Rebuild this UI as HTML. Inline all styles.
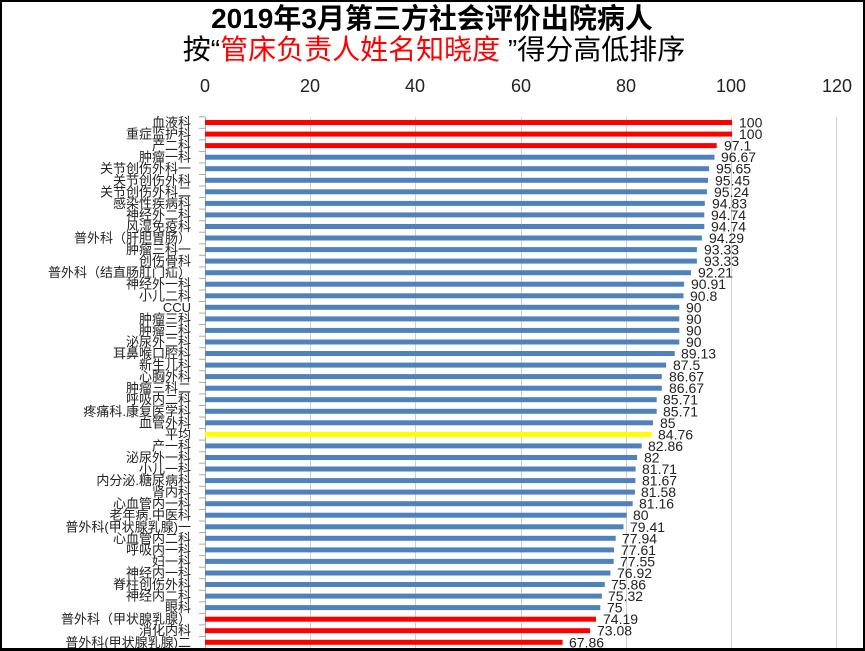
<!DOCTYPE html>
<html><head><meta charset="utf-8"><style>
html,body{margin:0;padding:0;background:#fff;}
svg{display:block;}
text{font-family:"Liberation Sans","Noto Sans CJK SC",sans-serif;}
</style></head><body>
<svg width="865" height="651" xmlns="http://www.w3.org/2000/svg">
<rect x="0" y="0" width="865" height="651" fill="#fff"/>
<text x="432" y="28" font-size="28" font-weight="bold" text-anchor="middle" fill="#000">2019年3月第三方社会评价出院病人</text>
<text x="434" y="59" font-size="28" text-anchor="middle" fill="#000">按“<tspan fill="#ff0000">管床负责人姓名知晓度</tspan> ”得分高低排序</text>
<g font-size="18" fill="#222" text-anchor="middle">
<text x="205" y="92">0</text><text x="310" y="92">20</text><text x="415" y="92">40</text><text x="521" y="92">60</text><text x="626" y="92">80</text><text x="731" y="92">100</text><text x="837" y="92">120</text>
</g>
<g stroke="#d0d0d0" stroke-width="1">
<line x1="310.5" y1="117" x2="310.5" y2="651"/><line x1="415.5" y1="117" x2="415.5" y2="651"/><line x1="521.5" y1="117" x2="521.5" y2="651"/><line x1="626.5" y1="117" x2="626.5" y2="651"/><line x1="731.5" y1="117" x2="731.5" y2="651"/><line x1="836.5" y1="117" x2="836.5" y2="651"/>
</g>
<line x1="205.5" y1="117" x2="205.5" y2="651" stroke="#aaa"/>
<g stroke="#aaa">
<line x1="199" y1="116.7" x2="205" y2="116.7"/><line x1="199" y1="128.3" x2="205" y2="128.3"/><line x1="199" y1="139.8" x2="205" y2="139.8"/><line x1="199" y1="151.4" x2="205" y2="151.4"/><line x1="199" y1="162.9" x2="205" y2="162.9"/><line x1="199" y1="174.5" x2="205" y2="174.5"/><line x1="199" y1="186" x2="205" y2="186"/><line x1="199" y1="197.6" x2="205" y2="197.6"/><line x1="199" y1="209.1" x2="205" y2="209.1"/><line x1="199" y1="220.7" x2="205" y2="220.7"/><line x1="199" y1="232.2" x2="205" y2="232.2"/><line x1="199" y1="243.8" x2="205" y2="243.8"/><line x1="199" y1="255.3" x2="205" y2="255.3"/><line x1="199" y1="266.9" x2="205" y2="266.9"/><line x1="199" y1="278.4" x2="205" y2="278.4"/><line x1="199" y1="290" x2="205" y2="290"/><line x1="199" y1="301.5" x2="205" y2="301.5"/><line x1="199" y1="313.1" x2="205" y2="313.1"/><line x1="199" y1="324.6" x2="205" y2="324.6"/><line x1="199" y1="336.2" x2="205" y2="336.2"/><line x1="199" y1="347.7" x2="205" y2="347.7"/><line x1="199" y1="359.3" x2="205" y2="359.3"/><line x1="199" y1="370.8" x2="205" y2="370.8"/><line x1="199" y1="382.4" x2="205" y2="382.4"/><line x1="199" y1="393.9" x2="205" y2="393.9"/><line x1="199" y1="405.5" x2="205" y2="405.5"/><line x1="199" y1="417" x2="205" y2="417"/><line x1="199" y1="428.6" x2="205" y2="428.6"/><line x1="199" y1="440.1" x2="205" y2="440.1"/><line x1="199" y1="451.7" x2="205" y2="451.7"/><line x1="199" y1="463.2" x2="205" y2="463.2"/><line x1="199" y1="474.8" x2="205" y2="474.8"/><line x1="199" y1="486.3" x2="205" y2="486.3"/><line x1="199" y1="497.9" x2="205" y2="497.9"/><line x1="199" y1="509.4" x2="205" y2="509.4"/><line x1="199" y1="521" x2="205" y2="521"/><line x1="199" y1="532.5" x2="205" y2="532.5"/><line x1="199" y1="544.1" x2="205" y2="544.1"/><line x1="199" y1="555.6" x2="205" y2="555.6"/><line x1="199" y1="567.2" x2="205" y2="567.2"/><line x1="199" y1="578.7" x2="205" y2="578.7"/><line x1="199" y1="590.3" x2="205" y2="590.3"/><line x1="199" y1="601.8" x2="205" y2="601.8"/><line x1="199" y1="613.4" x2="205" y2="613.4"/><line x1="199" y1="624.9" x2="205" y2="624.9"/><line x1="199" y1="636.5" x2="205" y2="636.5"/>
</g>
<g>
<rect x="205" y="120" width="527" height="5" fill="#ff0000"/>
<rect x="205" y="131.6" width="527" height="5" fill="#ff0000"/>
<rect x="205" y="143.1" width="511.7" height="5" fill="#ff0000"/>
<rect x="205" y="154.7" width="509.5" height="5" fill="#4f81bd"/>
<rect x="205" y="166.2" width="504.1" height="5" fill="#4f81bd"/>
<rect x="205" y="177.8" width="503" height="5" fill="#4f81bd"/>
<rect x="205" y="189.3" width="501.9" height="5" fill="#4f81bd"/>
<rect x="205" y="200.9" width="499.8" height="5" fill="#4f81bd"/>
<rect x="205" y="212.4" width="499.3" height="5" fill="#4f81bd"/>
<rect x="205" y="224" width="499.3" height="5" fill="#4f81bd"/>
<rect x="205" y="235.5" width="496.9" height="5" fill="#4f81bd"/>
<rect x="205" y="247.1" width="491.9" height="5" fill="#4f81bd"/>
<rect x="205" y="258.6" width="491.9" height="5" fill="#4f81bd"/>
<rect x="205" y="270.2" width="486" height="5" fill="#4f81bd"/>
<rect x="205" y="281.7" width="479.1" height="5" fill="#4f81bd"/>
<rect x="205" y="293.3" width="478.5" height="5" fill="#4f81bd"/>
<rect x="205" y="304.8" width="474.3" height="5" fill="#4f81bd"/>
<rect x="205" y="316.4" width="474.3" height="5" fill="#4f81bd"/>
<rect x="205" y="327.9" width="474.3" height="5" fill="#4f81bd"/>
<rect x="205" y="339.5" width="474.3" height="5" fill="#4f81bd"/>
<rect x="205" y="351" width="469.7" height="5" fill="#4f81bd"/>
<rect x="205" y="362.6" width="461.1" height="5" fill="#4f81bd"/>
<rect x="205" y="374.1" width="456.8" height="5" fill="#4f81bd"/>
<rect x="205" y="385.7" width="456.8" height="5" fill="#4f81bd"/>
<rect x="205" y="397.2" width="451.7" height="5" fill="#4f81bd"/>
<rect x="205" y="408.8" width="451.7" height="5" fill="#4f81bd"/>
<rect x="205" y="420.3" width="448" height="5" fill="#4f81bd"/>
<rect x="205" y="431.9" width="446.7" height="5" fill="#ffff00"/>
<rect x="205" y="443.4" width="436.7" height="5" fill="#4f81bd"/>
<rect x="205" y="455" width="432.1" height="5" fill="#4f81bd"/>
<rect x="205" y="466.5" width="430.6" height="5" fill="#4f81bd"/>
<rect x="205" y="478.1" width="430.4" height="5" fill="#4f81bd"/>
<rect x="205" y="489.6" width="429.9" height="5" fill="#4f81bd"/>
<rect x="205" y="501.2" width="427.7" height="5" fill="#4f81bd"/>
<rect x="205" y="512.7" width="421.6" height="5" fill="#4f81bd"/>
<rect x="205" y="524.3" width="418.5" height="5" fill="#4f81bd"/>
<rect x="205" y="535.8" width="410.7" height="5" fill="#4f81bd"/>
<rect x="205" y="547.4" width="409" height="5" fill="#4f81bd"/>
<rect x="205" y="558.9" width="408.7" height="5" fill="#4f81bd"/>
<rect x="205" y="570.5" width="405.4" height="5" fill="#4f81bd"/>
<rect x="205" y="582" width="399.8" height="5" fill="#4f81bd"/>
<rect x="205" y="593.6" width="396.9" height="5" fill="#4f81bd"/>
<rect x="205" y="605.1" width="395.3" height="5" fill="#4f81bd"/>
<rect x="205" y="616.7" width="391" height="5" fill="#ff0000"/>
<rect x="205" y="628.2" width="385.1" height="5" fill="#ff0000"/>
<rect x="205" y="639.8" width="357.6" height="5" fill="#ff0000"/>
</g>
<g font-size="14" fill="#222">
<text x="739" y="127.5">100</text>
<text x="739" y="139.1">100</text>
<text x="724" y="150.6">97.1</text>
<text x="721" y="162.2">96.67</text>
<text x="716" y="173.7">95.65</text>
<text x="715" y="185.3">95.45</text>
<text x="714" y="196.8">95.24</text>
<text x="712" y="208.4">94.83</text>
<text x="711" y="219.9">94.74</text>
<text x="711" y="231.5">94.74</text>
<text x="709" y="243">94.29</text>
<text x="704" y="254.6">93.33</text>
<text x="704" y="266.1">93.33</text>
<text x="698" y="277.7">92.21</text>
<text x="691" y="289.2">90.91</text>
<text x="690" y="300.8">90.8</text>
<text x="686" y="312.3">90</text>
<text x="686" y="323.9">90</text>
<text x="686" y="335.4">90</text>
<text x="686" y="347">90</text>
<text x="681" y="358.5">89.13</text>
<text x="673" y="370.1">87.5</text>
<text x="669" y="381.6">86.67</text>
<text x="669" y="393.2">86.67</text>
<text x="663" y="404.7">85.71</text>
<text x="663" y="416.3">85.71</text>
<text x="660" y="427.8">85</text>
<text x="658" y="439.4">84.76</text>
<text x="648" y="450.9">82.86</text>
<text x="644" y="462.5">82</text>
<text x="642" y="474">81.71</text>
<text x="642" y="485.6">81.67</text>
<text x="641" y="497.1">81.58</text>
<text x="639" y="508.7">81.16</text>
<text x="633" y="520.2">80</text>
<text x="630" y="531.8">79.41</text>
<text x="622" y="543.3">77.94</text>
<text x="621" y="554.9">77.61</text>
<text x="620" y="566.4">77.55</text>
<text x="617" y="578">76.92</text>
<text x="611" y="589.5">75.86</text>
<text x="608" y="601.1">75.32</text>
<text x="607" y="612.6">75</text>
<text x="603" y="624.2">74.19</text>
<text x="597" y="635.7">73.08</text>
<text x="569" y="647.3">67.86</text>
</g>
<g font-size="13" fill="#222" text-anchor="end">
<text x="191" y="127">血液科</text>
<text x="191" y="138.6">重症监护科</text>
<text x="191" y="150.1">产二科</text>
<text x="191" y="161.7">肿瘤一科</text>
<text x="191" y="173.2">关节创伤外科一</text>
<text x="191" y="184.8">关节创伤外科</text>
<text x="191" y="196.3">关节创伤外科二</text>
<text x="191" y="207.9">感染性疾病科</text>
<text x="191" y="219.4">神经外二科</text>
<text x="191" y="231">风湿免疫科</text>
<text x="191" y="242.5">普外科（肝胆胃肠）</text>
<text x="191" y="254.1">肿瘤三科一</text>
<text x="191" y="265.6">创伤骨科</text>
<text x="191" y="277.2">普外科（结直肠肛门疝）</text>
<text x="191" y="288.7">神经外一科</text>
<text x="191" y="300.3">小儿二科</text>
<text x="191" y="311.8">CCU</text>
<text x="191" y="323.4">肿瘤三科</text>
<text x="191" y="334.9">肿瘤二科</text>
<text x="191" y="346.5">泌尿外二科</text>
<text x="191" y="358">耳鼻喉口腔科</text>
<text x="191" y="369.6">新生儿科</text>
<text x="191" y="381.1">心胸外科</text>
<text x="191" y="392.7">肿瘤三科二</text>
<text x="191" y="404.2">呼吸内二科</text>
<text x="191" y="415.8">疼痛科.康复医学科</text>
<text x="191" y="427.3">血管外科</text>
<text x="191" y="438.9">平均</text>
<text x="191" y="450.4">产一科</text>
<text x="191" y="462">泌尿外一科</text>
<text x="191" y="473.5">小儿一科</text>
<text x="191" y="485.1">内分泌.糖尿病科</text>
<text x="191" y="496.6">肾内科</text>
<text x="191" y="508.2">心血管内一科</text>
<text x="191" y="519.7">老年病.中医科</text>
<text x="191" y="531.3">普外科(甲状腺乳腺)一</text>
<text x="191" y="542.8">心血管内二科</text>
<text x="191" y="554.4">呼吸内一科</text>
<text x="191" y="565.9">妇一科</text>
<text x="191" y="577.5">神经内一科</text>
<text x="191" y="589">脊柱创伤外科</text>
<text x="191" y="600.6">神经内二科</text>
<text x="191" y="612.1">眼科</text>
<text x="191" y="623.7">普外科（甲状腺乳腺）</text>
<text x="191" y="635.2">消化内科</text>
<text x="191" y="646.8">普外科(甲状腺乳腺)二</text>
</g>
<rect x="1" y="1" width="863" height="648" fill="none" stroke="#000" stroke-width="2"/>
<rect x="0" y="648" width="865" height="3" fill="#000"/>
</svg>
</body></html>
